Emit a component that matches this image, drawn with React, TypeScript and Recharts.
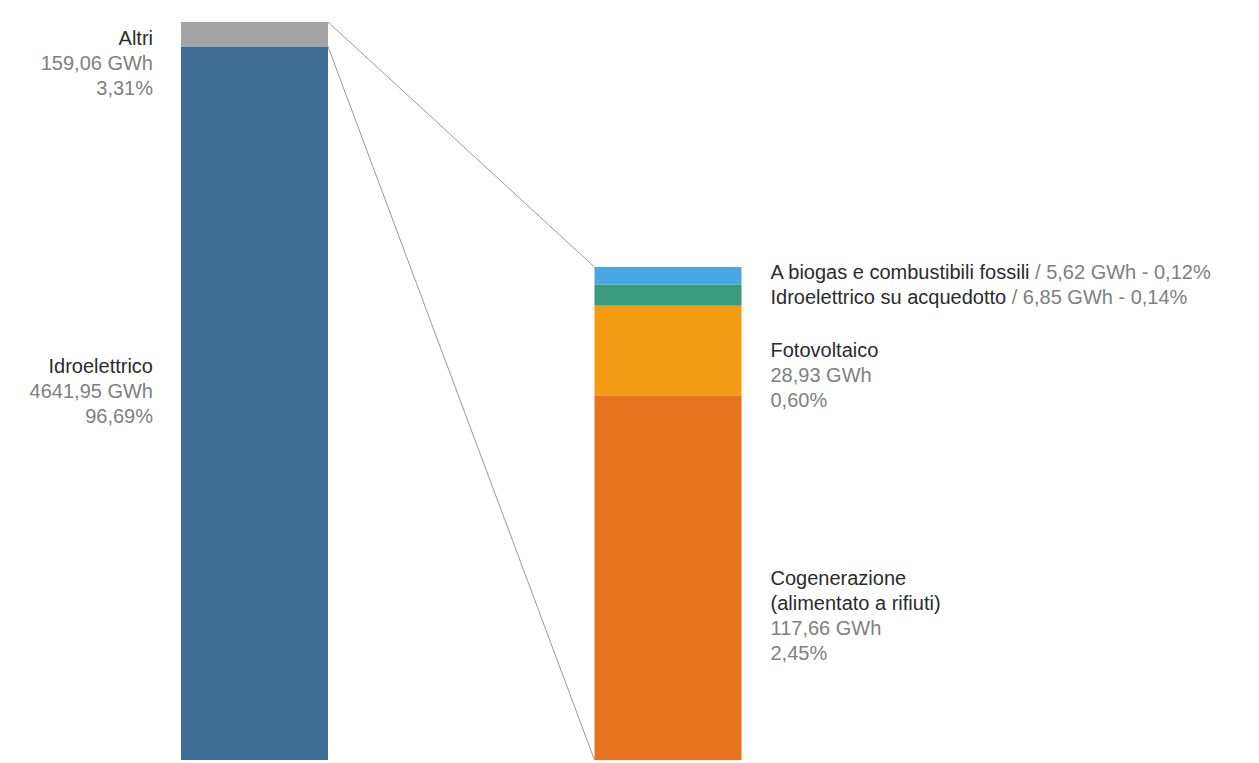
import { useLayoutEffect, useState } from 'react';
import { BarChart, Bar, XAxis, YAxis } from 'recharts';

// totale produzione (barra di sinistra), dal basso verso l'alto
const mainKeys = ['idro', 'altri'];
const mainLabels = [['Idroelettrico'], ['Altri']];
const mainValues = [4641.95, 159.06];
const mainColors = ['#3e6e97', '#a4a4a4'];

// dettaglio di "Altri" (barra di destra), dal basso verso l'alto
const detailKeys = ['cog', 'foto', 'acq', 'bio'];
const detailLabels = [
  ['Cogenerazione', '(alimentato a rifiuti)'],
  ['Fotovoltaico'],
  ['Idroelettrico su acquedotto'],
  ['A biogas e combustibili fossili'],
];
const detailValues = [117.66, 28.93, 6.85, 5.62];
const detailColors = ['#e77320', '#f29b13', '#389b7c', '#4aa7e3'];

const categories = ['Totale', 'Altri'];

const mainTotal = mainValues.reduce((a, b) => a + b, 0);
const detailTotal = detailValues.reduce((a, b) => a + b, 0);
// quota dell'altezza del grafico occupata dalla barra di dettaglio
const DETAIL_SHARE = 0.668;

const data = [
  { name: categories[0], ...Object.fromEntries(mainKeys.map((k, i) => [k, mainValues[i]])) },
  { name: categories[1], ...Object.fromEntries(detailKeys.map((k, i) => [k, detailValues[i]])) },
];

const FONT = '"Liberation Sans", Arial, sans-serif';
const FS = 20;
const LINE = 25;
const DARK = '#2b2b2b';
const GREY = '#808080';
const LINK = '#999999';

const fmt = (v: number) => v.toFixed(2).replace('.', ',');

type Anchor = { x: number; top: number; bottom: number };

function Segment(props: any) {
  const { x, y, width, height, fill, side, idx, anchor, onAnchor } = props;
  const ok = height > 0 && Number.isFinite(y);

  useLayoutEffect(() => {
    if (onAnchor && ok) onAnchor({ x: x + width, top: y, bottom: y + height });
  });

  if (!ok) return null;

  const rect = <rect x={x} y={y} width={width} height={height} fill={fill} />;

  if (side === 'main') {
    const value = mainValues[idx];
    const lines = [...mainLabels[idx], `${fmt(value)} GWh`, `${fmt((value / mainTotal) * 100)}%`];
    const center = y + height / 2;
    const first = Math.max(center - (lines.length * LINE) / 2, y + 16);
    return (
      <g>
        {rect}
        <text x={x - 28} textAnchor="end" fontFamily={FONT} fontSize={FS} dominantBaseline="central">
          {lines.map((l, i) => (
            <tspan key={i} x={x - 28} y={first + i * LINE} fill={i < mainLabels[idx].length ? DARK : GREY}>
              {l}
            </tspan>
          ))}
        </text>
      </g>
    );
  }

  const value = detailValues[idx];
  const names = detailLabels[idx];
  const gwh = `${fmt(value)} GWh`;
  const pct = `${fmt((value / mainTotal) * 100)}%`;
  const tx = x + width + 29;
  const center = y + height / 2;

  let label;
  if (height < 40) {
    // segmenti sottili: etichetta su una riga, allontanata dal vicino se serve spazio
    const spread = height < LINE ? (LINE - height) / 2 : 0;
    const ly = idx === detailKeys.length - 1 ? center - spread : center + spread;
    label = (
      <text x={tx} y={ly} fontFamily={FONT} fontSize={FS} dominantBaseline="central">
        <tspan fill={DARK}>{names.join(' ')}</tspan>
        <tspan fill={GREY}>{` / ${gwh} - ${pct}`}</tspan>
      </text>
    );
  } else {
    const lines = [...names, gwh, pct];
    const first = center;
    label = (
      <text x={tx} fontFamily={FONT} fontSize={FS} dominantBaseline="central">
        {lines.map((l, i) => (
          <tspan key={i} x={tx} y={first + i * LINE} fill={i < names.length ? DARK : GREY}>
            {l}
          </tspan>
        ))}
      </text>
    );
  }

  let link = null;
  if (anchor && idx === 0) {
    link = <line x1={anchor.x} y1={anchor.bottom} x2={x} y2={y + height} stroke={LINK} strokeWidth={1} />;
  } else if (anchor && idx === detailKeys.length - 1) {
    link = <line x1={anchor.x} y1={anchor.top} x2={x} y2={y} stroke={LINK} strokeWidth={1} />;
  }

  return (
    <g>
      {rect}
      {link}
      {label}
    </g>
  );
}

export default function App() {
  const [anchor, setAnchor] = useState<Anchor | null>(null);
  const report = (a: Anchor) =>
    setAnchor((prev) =>
      prev && prev.x === a.x && prev.top === a.top && prev.bottom === a.bottom ? prev : a
    );

  return (
    <div style={{ position: 'absolute', left: 0, top: 0, width: 1259, height: 763, background: '#fff' }}>
      <BarChart
        width={1259}
        height={763}
        data={data}
        margin={{ top: 22, right: 384, bottom: 3, left: 48 }}
      >
        <XAxis dataKey="name" hide />
        <YAxis yAxisId="main" hide domain={[0, mainTotal]} allowDataOverflow />
        <YAxis yAxisId="detail" hide domain={[0, detailTotal / DETAIL_SHARE]} allowDataOverflow />
        {mainKeys.map((k, i) => (
          <Bar
            key={k}
            dataKey={k}
            stackId="s"
            yAxisId="main"
            fill={mainColors[i]}
            barSize={147}
            isAnimationActive={false}
            shape={(p: any) => (
              <Segment
                {...p}
                side="main"
                idx={i}
                onAnchor={i === mainKeys.length - 1 ? report : undefined}
              />
            )}
          />
        ))}
        {detailKeys.map((k, i) => (
          <Bar
            key={k}
            dataKey={k}
            stackId="s"
            yAxisId="detail"
            fill={detailColors[i]}
            barSize={147}
            isAnimationActive={false}
            shape={(p: any) => <Segment {...p} side="detail" idx={i} anchor={anchor} />}
          />
        ))}
      </BarChart>
    </div>
  );
}
